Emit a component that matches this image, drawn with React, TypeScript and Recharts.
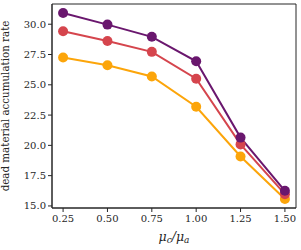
import { LineChart, Line, XAxis, YAxis, ReferenceArea } from 'recharts'

const ratios = [0.25, 0.5, 0.75, 1.0, 1.25, 1.5]
const purpleRate = [30.92, 29.97, 28.96, 26.94, 20.64, 16.25]
const redRate = [29.42, 28.61, 27.72, 25.5, 20.08, 15.97]
const orangeRate = [27.25, 26.61, 25.69, 23.19, 19.08, 15.58]

const xTicks = [0.25, 0.5, 0.75, 1.0, 1.25, 1.5]
const yTicks = [15, 17.5, 20, 22.5, 25, 27.5, 30]

const data = ratios.map((r, i) => ({
  ratio: r,
  purple: purpleRate[i],
  red: redRate[i],
  orange: orangeRate[i],
}))

const FONT = '"DejaVu Serif", serif'
const INK = '#262626'
const X_DOMAIN: [number, number] = [0.1875, 1.5625]
const Y_DOMAIN: [number, number] = [14.83, 31.67]

const series = [
  { key: 'orange', color: '#fca50a' },
  { key: 'red', color: '#d5454d' },
  { key: 'purple', color: '#6a176e' },
]

function XLabel() {
  return (
    <text x={174} y={241} textAnchor="middle" fontFamily={FONT} fontSize={12.5} fill={INK} fontStyle="italic">
      <tspan>μ</tspan>
      <tspan fontSize={9} dy={2}>c</tspan>
      <tspan dy={-2}>/μ</tspan>
      <tspan fontSize={9} dy={2}>a</tspan>
    </text>
  )
}

function YLabel() {
  return (
    <text transform="translate(9,106) rotate(-90)" textAnchor="middle" fontFamily={FONT} fontSize={10.3} fill={INK}>
      dead material accumulation rate
    </text>
  )
}

export default function App() {
  return (
    <div style={{ position: 'absolute', left: 0, top: 0, background: '#fff' }}>
      <LineChart width={301} height={250} data={data} margin={{ top: 4, right: 5, left: 0, bottom: 0 }}>
        <XAxis
          dataKey="ratio"
          type="number"
          domain={X_DOMAIN}
          ticks={xTicks}
          tickFormatter={(v: number) => v.toFixed(2)}
          height={42}
          tickSize={4}
          tickMargin={3}
          stroke={INK}
          tick={{ fontFamily: FONT, fontSize: 10, fill: INK }}
          label={<XLabel />}
        />
        <YAxis
          type="number"
          domain={Y_DOMAIN}
          ticks={yTicks}
          tickFormatter={(v: number) => v.toFixed(1)}
          width={52}
          tickSize={4}
          tickMargin={2}
          stroke={INK}
          tick={{ fontFamily: FONT, fontSize: 10, fill: INK }}
          label={<YLabel />}
        />
        <ReferenceArea
          x1={X_DOMAIN[0]}
          x2={X_DOMAIN[1]}
          y1={Y_DOMAIN[0]}
          y2={Y_DOMAIN[1]}
          fill="none"
          stroke={INK}
          strokeWidth={1}
          ifOverflow="visible"
        />
        {series.map((s) => (
          <Line
            key={s.key}
            dataKey={s.key}
            stroke={s.color}
            strokeWidth={2}
            dot={{ r: 5, fill: s.color, stroke: s.color, strokeWidth: 0 }}
            activeDot={false}
            isAnimationActive={false}
          />
        ))}
      </LineChart>
    </div>
  )
}
